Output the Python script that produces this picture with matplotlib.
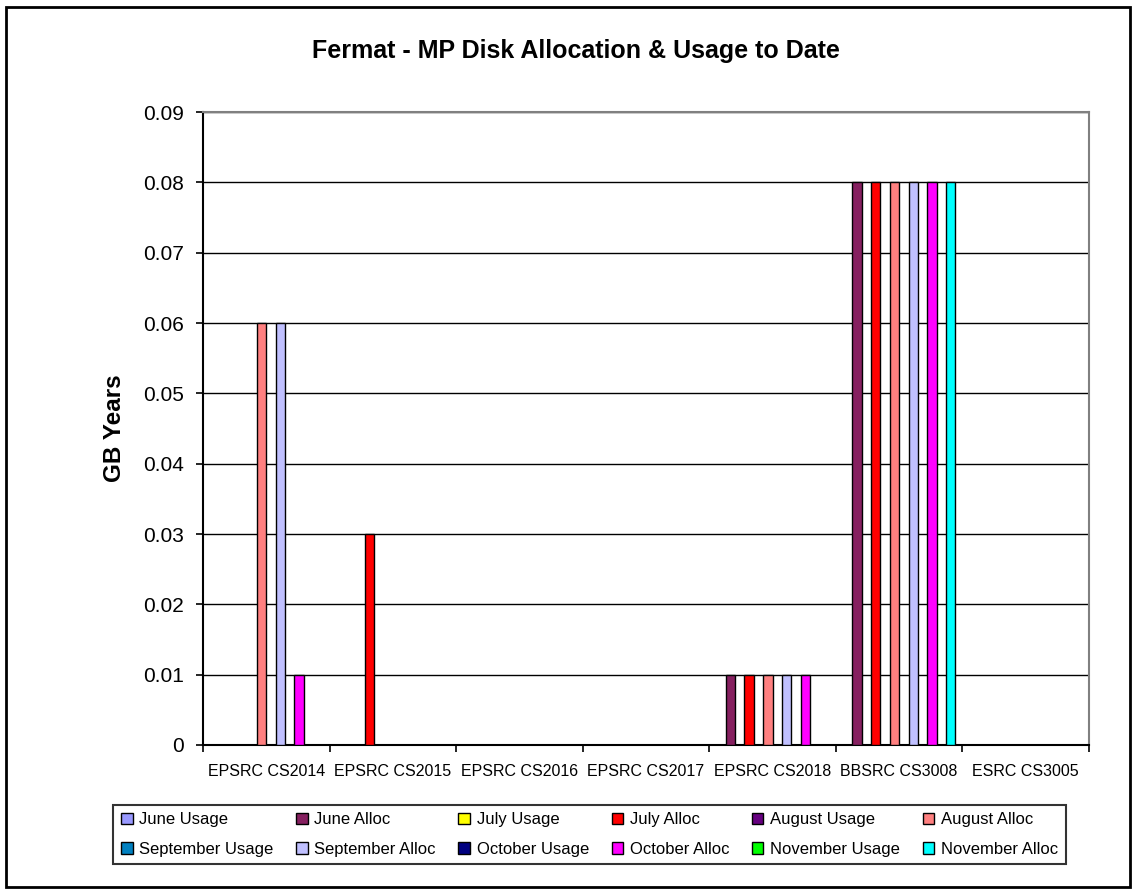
import numpy as np
import matplotlib.pyplot as plt
from matplotlib.patches import Rectangle

plt.rcParams['font.family'] = ['Liberation Sans', 'DejaVu Sans']

projects = ["EPSRC CS2014", "EPSRC CS2015", "EPSRC CS2016", "EPSRC CS2017",
            "EPSRC CS2018", "BBSRC CS3008", "ESRC CS3005"]

june_usage = [0, 0, 0, 0, 0, 0, 0]
june_alloc = [0, 0, 0, 0, 0.01, 0.08, 0]
july_usage = [0, 0, 0, 0, 0, 0, 0]
july_alloc = [0, 0.03, 0, 0, 0.01, 0.08, 0]
august_usage = [0, 0, 0, 0, 0, 0, 0]
august_alloc = [0.06, 0, 0, 0, 0.01, 0.08, 0]
september_usage = [0, 0, 0, 0, 0, 0, 0]
september_alloc = [0.06, 0, 0, 0, 0.01, 0.08, 0]
october_usage = [0, 0, 0, 0, 0, 0, 0]
october_alloc = [0.01, 0, 0, 0, 0.01, 0.08, 0]
november_usage = [0, 0, 0, 0, 0, 0, 0]
november_alloc = [0, 0, 0, 0, 0, 0.08, 0]

series_names = ["June Usage", "June Alloc", "July Usage", "July Alloc",
                "August Usage", "August Alloc", "September Usage", "September Alloc",
                "October Usage", "October Alloc", "November Usage", "November Alloc"]
series_values = [june_usage, june_alloc, july_usage, july_alloc,
                 august_usage, august_alloc, september_usage, september_alloc,
                 october_usage, october_alloc, november_usage, november_alloc]
colors = ["#9999FF", "#862060", "#FFFF00", "#FF0000", "#660080", "#FF8080",
          "#0080C0", "#C0C0FF", "#000080", "#FF00FF", "#00FF00", "#00FFFF"]

fig = plt.figure(figsize=(11.32, 8.94), dpi=100)
ax = fig.add_axes([203/1132, 1-745/894, (1089-203)/1132, (745-112)/894])

# excel style grouping: 12 bars + 150% gap per category
gap = 1.5
w = 1.0 / (len(series_names) + gap)
x = np.arange(len(projects))
handles = []
for j, (name, vals, c) in enumerate(zip(series_names, series_values, colors)):
    pos = x - 0.5 + gap*w/2 + (j + 0.5)*w
    b = ax.bar(pos, vals, width=w, color=c, edgecolor='black', linewidth=1.0,
               label=name, zorder=3)
    handles.append(b)

ax.set_xlim(-0.5, len(projects) - 0.5)
ax.set_ylim(0, 0.09)
ax.set_yticks(np.arange(0, 0.091, 0.01))
ax.set_yticklabels(["0"] + ["%.2f" % v for v in np.arange(0.01, 0.091, 0.01)])
ax.yaxis.grid(True, color='black', linewidth=1.0, zorder=0)
ax.set_axisbelow(True)

ax.set_xticks(x)
ax.set_xticklabels(projects, fontsize=11.5)
ax.set_xticks(np.arange(-0.5, len(projects)), minor=True)
ax.tick_params(axis='x', which='major', length=0, pad=14)
ax.tick_params(axis='x', which='minor', length=5, width=1.2, direction='out')
ax.tick_params(axis='y', labelsize=15, length=5, width=1.2, direction='out', pad=9)

for s in ['top', 'right']:
    ax.spines[s].set_color('#808080')
    ax.spines[s].set_linewidth(1.5)
for s in ['left', 'bottom']:
    ax.spines[s].set_color('black')
    ax.spines[s].set_linewidth(1.5)

ax.set_ylabel("GB Years", fontsize=17.5, fontweight='bold')
ax.yaxis.set_label_coords((126 - 203) / 886, 0.5)

fig.text(576/1132, 1 - 58/894, "Fermat - MP Disk Allocation & Usage to Date",
         ha='center', va='baseline', fontsize=18, fontweight='bold')

# legend filled row-wise like excel
order = [0, 6, 1, 7, 2, 8, 3, 9, 4, 10, 5, 11]
leg = fig.legend([handles[i] for i in order], [series_names[i] for i in order],
                 ncol=6, loc='center', bbox_to_anchor=(589.5/1132, 1 - 834.5/894),
                 fontsize=12, frameon=True, fancybox=False, borderpad=0.45,
                 handlelength=0.7, handleheight=0.7, handletextpad=0.4,
                 columnspacing=1.35, labelspacing=0.85)
leg.get_frame().set_edgecolor('black')
leg.get_frame().set_linewidth(1.5)

fig.patches.append(Rectangle((6/1132, 7/894), 1124/1132, 880/894, transform=fig.transFigure,
                             fill=False, edgecolor='black', linewidth=2))

fig.savefig("out.png", dpi=100)
